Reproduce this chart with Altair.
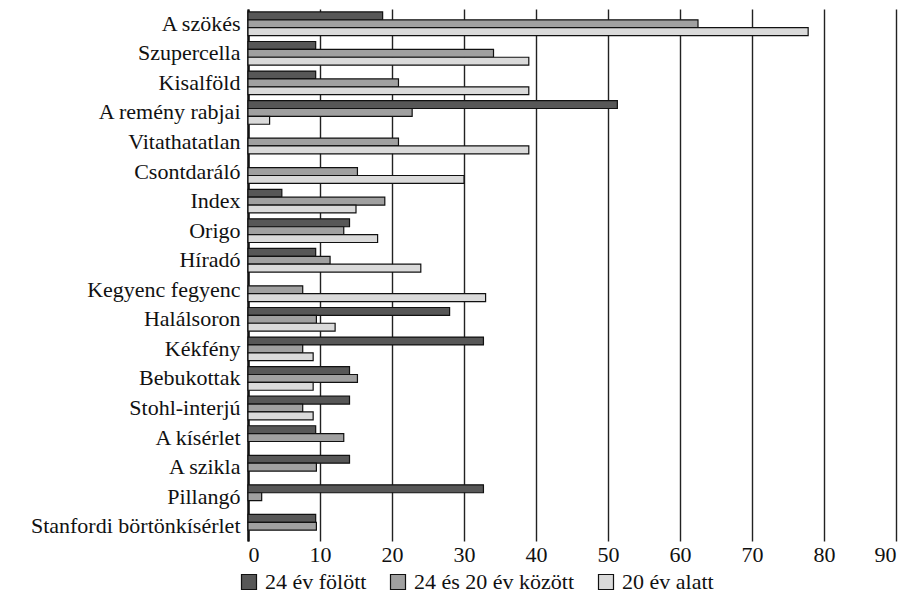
import altair as alt
import pandas as pd

films = ["A szökés", "Szupercella", "Kisalföld", "A remény rabjai", "Vitathatatlan",
         "Csontdaráló", "Index", "Origo", "Híradó", "Kegyenc fegyenc", "Halálsoron",
         "Kékfény", "Bebukottak", "Stohl-interjú", "A kísérlet", "A szikla", "Pillangó",
         "Stanfordi börtönkísérlet"]
series = ["24 év fölött", "24 és 20 év között", "20 év alatt"]
over24 = [18.7, 9.4, 9.4, 51.3, None, None, 4.7, 14.1, 9.4, None, 28.0, 32.7, 14.1, 14.1, 9.4, 14.1, 32.7, 9.4]
mid = [62.5, 34.1, 20.9, 22.8, 20.9, 15.2, 19.0, 13.3, 11.4, 7.6, 9.5, 7.6, 15.2, 7.6, 13.3, 9.5, 1.9, 9.5]
under20 = [77.8, 39.0, 39.0, 3.0, 39.0, 30.0, 15.0, 18.0, 24.0, 33.0, 12.1, 9.05, 9.05, 9.05, None, None, None, None]
colors = ["#575757", "#a0a0a0", "#dadada"]
ticks = [0, 10, 20, 30, 40, 50, 60, 70, 80, 90]

rows = []
for i, f in enumerate(films):
    for s, vals in zip(series, [over24, mid, under20]):
        v = vals[i]
        if v is not None:
            rows.append({"film": f, "series": s, "value": v})
df = pd.DataFrame(rows)

FONT = "Liberation Serif"
FS = 22

chart = alt.Chart(df).mark_bar(stroke="#111111", strokeWidth=1.2).encode(
    y=alt.Y("film:N", sort=films, title=None,
            scale=alt.Scale(paddingInner=0.2, paddingOuter=0.1),
            axis=alt.Axis(labelFont=FONT, labelFontSize=FS, labelColor="#111",
                          ticks=False, labelPadding=8, minExtent=240, maxExtent=240,
                          domain=True, domainColor="#111", domainWidth=2.5,
                          grid=False, labelLimit=300)),
    yOffset=alt.YOffset("series:N", sort=series, scale=alt.Scale(paddingInner=0, paddingOuter=0)),
    x=alt.X("value:Q", title=None,
            scale=alt.Scale(domain=[0, 90], nice=False),
            axis=alt.Axis(values=ticks, labelFont=FONT, labelFontSize=FS, labelColor="#111",
                          domain=False, ticks=False, labelPadding=3,
                          grid=True, gridColor="#222", gridWidth=1.4)),
    color=alt.Color("series:N", sort=series,
                    scale=alt.Scale(domain=series, range=colors),
                    legend=alt.Legend(title=None, orient="none", direction="horizontal",
                                      legendX=-10, legendY=562,
                                      labelFont=FONT, labelFontSize=FS, labelColor="#111",
                                      labelLimit=400,
                                      symbolType="square", symbolSize=225,
                                      symbolStrokeColor="#111", symbolStrokeWidth=1.2,
                                      symbolOpacity=1, columnPadding=20, labelOffset=5,
                                      padding=0)),
).properties(
    width=648, height=532,
    padding={"top": 1, "left": 0, "right": 5, "bottom": 0},
).configure_view(stroke=None)

chart.save("out.html", embed_options={"renderer": "svg", "actions": False})
